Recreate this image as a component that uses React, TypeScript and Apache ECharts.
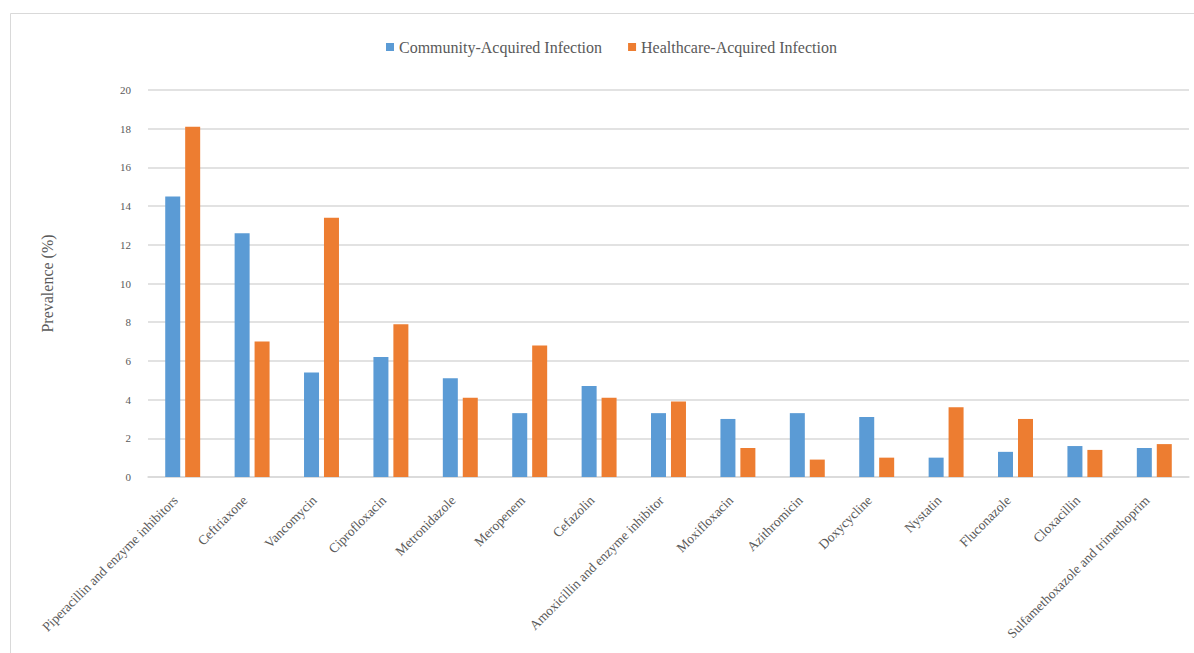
import React, { useEffect, useRef } from "react";
import * as echarts from "echarts";

const categories = [
  "Piperacillin and enzyme inhibitors",
  "Ceftriaxone",
  "Vancomycin",
  "Ciprofloxacin",
  "Metronidazole",
  "Meropenem",
  "Cefazolin",
  "Amoxicillin and enzyme inhibitor",
  "Moxifloxacin",
  "Azithromicin",
  "Doxycycline",
  "Nystatin",
  "Fluconazole",
  "Cloxacillin",
  "Sulfamethoxazole and trimethoprim",
];
const community = [14.5, 12.6, 5.4, 6.2, 5.1, 3.3, 4.7, 3.3, 3.0, 3.3, 3.1, 1.0, 1.3, 1.6, 1.5];
const healthcare = [18.1, 7.0, 13.4, 7.9, 4.1, 6.8, 4.1, 3.9, 1.5, 0.9, 1.0, 3.6, 3.0, 1.4, 1.7];
const seriesNames = ["Community-Acquired Infection", "Healthcare-Acquired Infection"];

const FONT = "Liberation Serif";
const TXT = "#595959";

export default function App() {
  const ref = useRef<HTMLDivElement>(null);
  useEffect(() => {
    document.body.style.margin = "0";
    const chart = echarts.init(ref.current!, null, { renderer: "svg" });
    chart.setOption({
      animation: false,
      backgroundColor: "#ffffff",
      textStyle: { fontFamily: FONT },
      graphic: [
        {
          type: "rect",
          shape: { x: 10.5, y: 13.5, width: 1300, height: 800 },
          style: { fill: "none", stroke: "#d9d9d9", lineWidth: 1 },
          silent: true,
        },
      ],
      legend: {
        top: 34,
        left: 381,
        itemWidth: 8,
        itemHeight: 8,
        itemGap: 26,
        icon: "rect",
        textStyle: { fontFamily: FONT, fontSize: 16, color: TXT },
        data: seriesNames,
      },
      grid: { left: 148, right: 5, top: 90, bottom: 176, containLabel: false },
      xAxis: {
        type: "category",
        data: categories,
        axisLine: { lineStyle: { color: "#d9d9d9", width: 1.5 } },
        axisTick: { show: false },
        axisLabel: {
          rotate: 45,
          interval: 0,
          margin: 14,
          padding: [0, 10, 0, 0],
          fontFamily: FONT,
          fontSize: 13.5,
          color: TXT,
        },
      },
      yAxis: {
        type: "value",
        min: 0,
        max: 20,
        interval: 2,
        name: "Prevalence (%)",
        nameLocation: "middle",
        nameGap: 93,
        nameTextStyle: { fontFamily: FONT, fontSize: 16, color: TXT },
        axisLine: { show: false },
        axisTick: { show: false },
        axisLabel: { fontFamily: FONT, fontSize: 11, color: TXT, margin: 17 },
        splitLine: { lineStyle: { color: "#d9d9d9", width: 1.5 } },
      },
      series: [
        {
          name: seriesNames[0],
          type: "bar",
          data: community,
          barWidth: 15,
          barGap: "33%",
          itemStyle: { color: "#5B9BD5" },
        },
        {
          name: seriesNames[1],
          type: "bar",
          data: healthcare,
          barWidth: 15,
          barGap: "33%",
          itemStyle: { color: "#ED7D31" },
        },
      ],
    });
    return () => chart.dispose();
  }, []);
  return <div ref={ref} style={{ width: 1194, height: 653 }} />;
}
